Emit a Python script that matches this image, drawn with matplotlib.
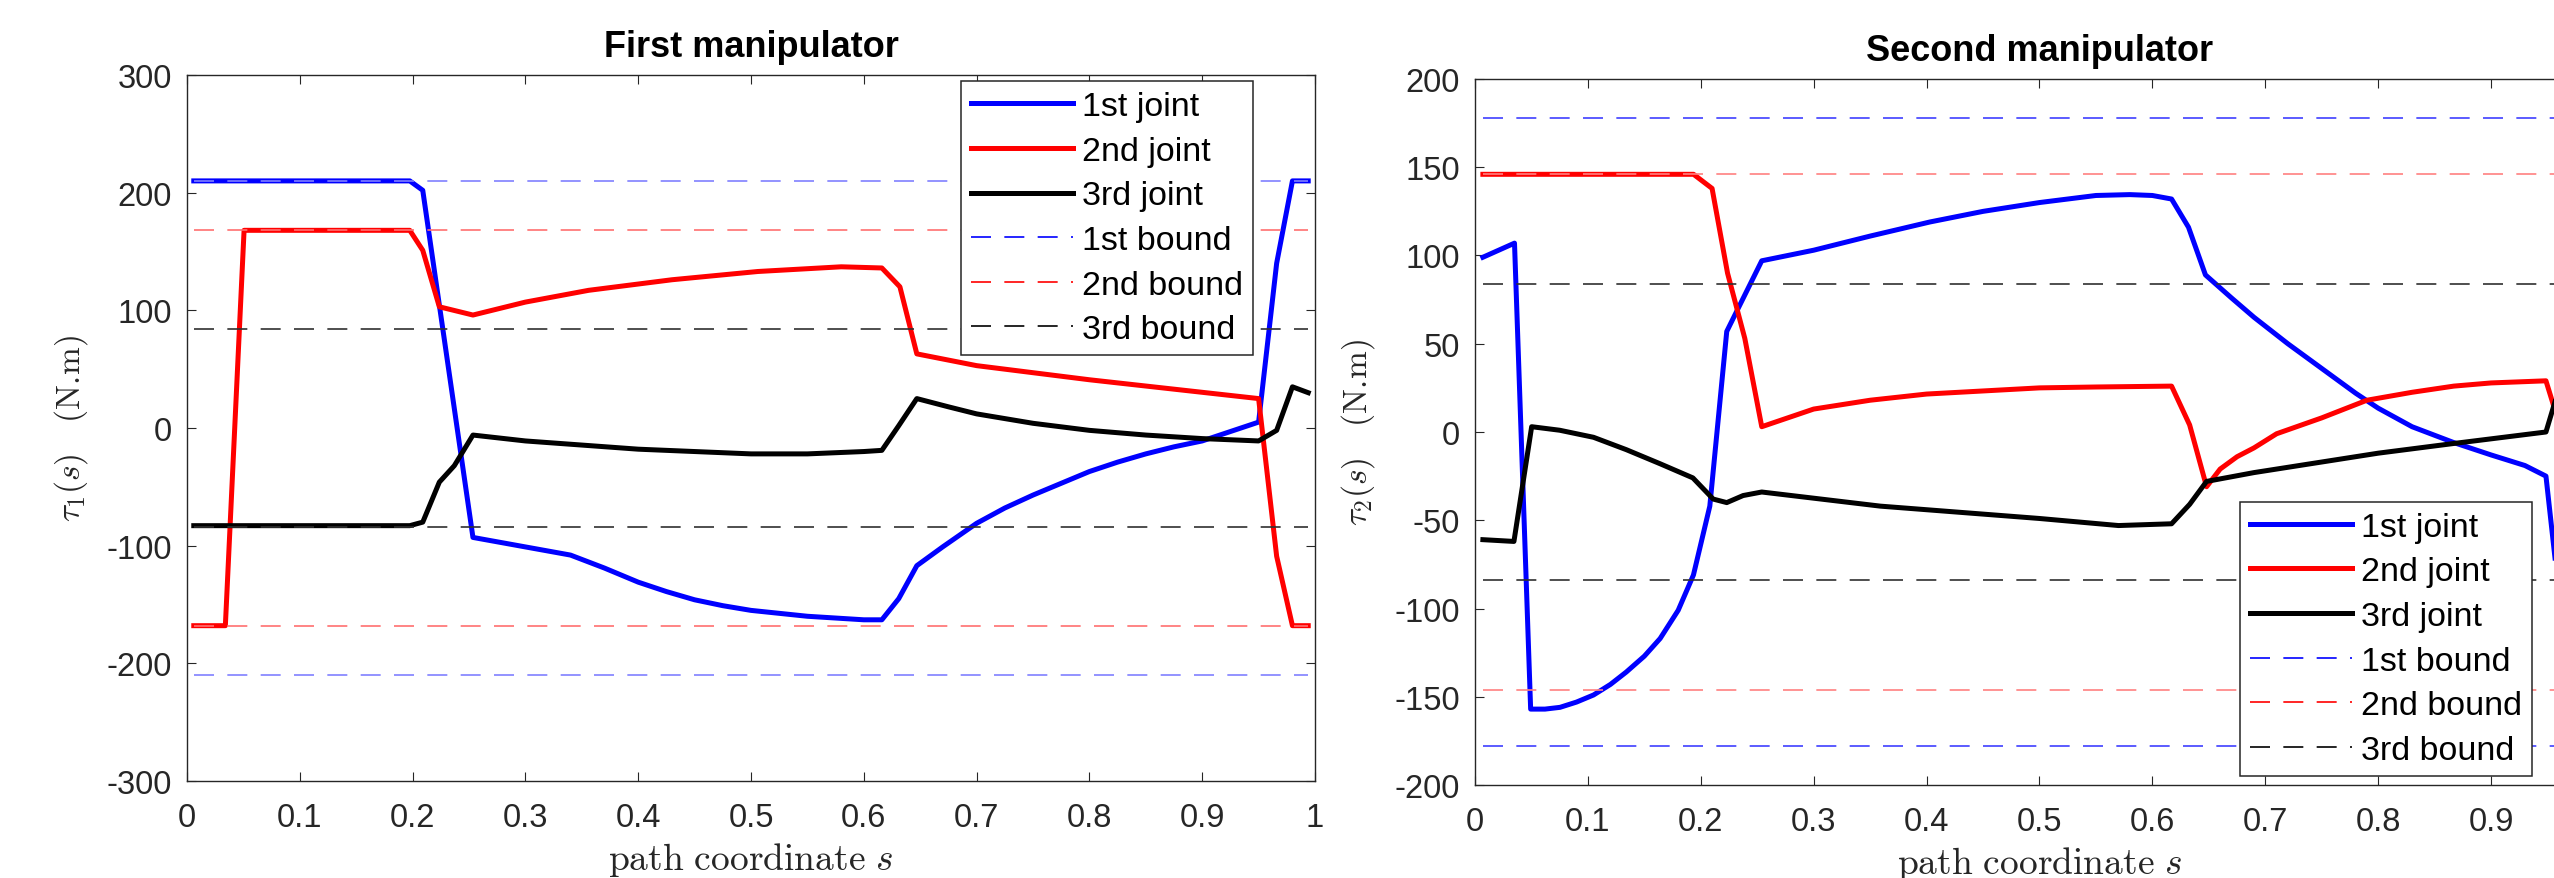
import matplotlib
matplotlib.use('Agg')
import matplotlib.pyplot as plt
from matplotlib.lines import Line2D

# ---- data ----
# first manipulator
s1_j1 = [0.006, 0.1975, 0.209, 0.2535, 0.34, 0.37, 0.40, 0.425, 0.45, 0.475, 0.50, 0.55, 0.60,
         0.616, 0.631, 0.647, 0.67, 0.70, 0.725, 0.75, 0.775, 0.80, 0.825, 0.85, 0.875, 0.90,
         0.925, 0.95, 0.966, 0.98, 0.994]
tau1_j1 = [210, 210, 202, -93, -108, -119, -131, -139, -146, -151, -155, -160, -163,
           -163, -145, -117, -101, -81, -68, -57, -47, -37, -29, -22, -16, -11,
           -3, 5, 140, 210, 210]
s1_j2 = [0.006, 0.034, 0.0506, 0.1975, 0.209, 0.2237, 0.2535, 0.30, 0.356, 0.43, 0.506, 0.58,
         0.616, 0.632, 0.647, 0.70, 0.80, 0.95, 0.966, 0.98, 0.994]
tau1_j2 = [-168, -168, 168, 168, 151, 103, 96, 107, 117, 126, 133, 137,
           136, 120, 63, 53, 41, 25, -109, -168, -168]
s1_j3 = [0.006, 0.1975, 0.209, 0.2237, 0.237, 0.2535, 0.30, 0.40, 0.50, 0.55, 0.60, 0.616,
         0.631, 0.647, 0.675, 0.70, 0.75, 0.80, 0.85, 0.90, 0.95, 0.966, 0.98, 0.994]
tau1_j3 = [-83, -83, -80, -46, -32, -6, -11, -18, -22, -22, -20, -19,
           2, 25, 18, 12, 4, -2, -6, -9, -11, -2, 35, 30]
bounds1 = [210, 168, 84]

# second manipulator
s2_j1 = [0.007, 0.035, 0.0493, 0.062, 0.0753, 0.09, 0.105, 0.12, 0.134, 0.15, 0.164, 0.18,
         0.1935, 0.208, 0.223, 0.254, 0.30, 0.35, 0.403, 0.45, 0.50, 0.55, 0.58, 0.60, 0.617,
         0.632, 0.647, 0.67, 0.69, 0.72, 0.75, 0.78, 0.80, 0.83, 0.867, 0.90, 0.93, 0.9486,
         0.965, 0.98, 0.994]
tau2_j1 = [99, 107, -157, -157, -156, -153, -149, -143, -136, -127, -117, -101,
           -81, -42, 57, 97, 103, 111, 119, 125, 130, 134, 134.5, 134, 132,
           116, 89, 76, 65, 50, 36, 22, 13.5, 3, -6, -13, -19, -25,
           -120, -157, -157]
s2_j2 = [0.007, 0.1936, 0.21, 0.2237, 0.239, 0.254, 0.30, 0.35, 0.40, 0.50, 0.55, 0.617,
         0.633, 0.648, 0.66, 0.675, 0.69, 0.71, 0.75, 0.79, 0.83, 0.867, 0.90, 0.9486,
         0.965, 0.98, 0.994]
tau2_j2 = [146, 146, 138, 90, 53, 3, 13, 18, 21.5, 25, 25.5, 26,
           4, -31, -21, -14, -9, -1, 8, 18, 22.5, 26, 27.8, 29,
           -5, -40, -40]
s2_j3 = [0.007, 0.0345, 0.0502, 0.075, 0.105, 0.134, 0.164, 0.193, 0.211, 0.223, 0.2375,
         0.254, 0.359, 0.50, 0.57, 0.617, 0.633, 0.648, 0.69, 0.80, 0.867, 0.9486, 0.965,
         0.98, 0.994]
tau2_j3 = [-61, -62, 3, 1, -3, -10, -18, -26, -38, -40, -36,
           -34, -42, -49, -53, -52, -41, -28, -23, -12, -6.5, 0, 35,
           50, 45]
bounds2 = [178, 146, 84]

xticks = [0, 0.1, 0.2, 0.3, 0.4, 0.5, 0.6, 0.7, 0.8, 0.9, 1]
xticklabels = ['0', '0.1', '0.2', '0.3', '0.4', '0.5', '0.6', '0.7', '0.8', '0.9', '1']
yticks1 = [-300, -200, -100, 0, 100, 200, 300]
yticks2 = [-200, -150, -100, -50, 0, 50, 100, 150, 200]
joint_names = ['1st joint', '2nd joint', '3rd joint']
bound_names = ['1st bound', '2nd bound', '3rd bound']

plt.rcParams['font.family'] = ['Liberation Sans', 'DejaVu Sans']
plt.rcParams['mathtext.fontset'] = 'cm'

dark = '#262626'
jcolors = ['#0000ff', '#ff0000', '#000000']
bcolors1 = ['#8080ff', '#ff7070', '#303030']
bcolors2 = ['#4040ff', '#ff8080', '#303030']

fig = plt.figure(figsize=(25.54, 8.79), dpi=100)
ax1 = fig.add_axes([0.07322, 0.11035, 0.44166, 0.80319])
ax2 = fig.add_axes([0.57752, 0.1058, 0.44205, 0.80319])


def draw(ax, joints, bounds, bcolors, yticks, ylab, title, xlabels, leg_loc, leg_anchor):
    for (s, v), c in zip(joints, jcolors):
        ax.plot(s, v, color=c, lw=3.6)
    s0, s1 = joints[0][0][0], joints[0][0][-1]
    for b, c in zip(bounds, bcolors):
        for sign in (1, -1):
            ax.plot([s0, s1], [sign * b, sign * b], color=c, lw=1.2, dashes=(12, 8))
    ax.set_xlim(0, 1)
    ax.set_ylim(yticks[0], yticks[-1])
    ax.set_xticks(xticks, xlabels)
    ax.set_yticks(yticks, [str(t) for t in yticks])
    ax.tick_params(direction='in', length=6.5, width=0.8, top=True, right=True,
                   labelsize=23.5, colors=dark, labelcolor=dark)
    ax.tick_params(axis='x', pad=15)
    ax.tick_params(axis='y', pad=11)
    for sp in ax.spines.values():
        sp.set_color(dark)
        sp.set_linewidth(1.0)
    ax.set_title(title, fontsize=26, fontweight='bold', pad=14)
    ax.set_xlabel(r'$\mathrm{path\ coordinate}\ s$', fontsize=27, color=dark, labelpad=5)
    ax.set_ylabel(ylab, fontsize=24, color=dark, labelpad=12)

    handles = [Line2D([], [], color=c, lw=3.6) for c in jcolors]
    handles += [Line2D([], [], color=c, lw=1.2, dashes=(12, 8)) for c in jcolors]
    leg = ax.legend(handles, joint_names + bound_names, loc=leg_loc,
                    bbox_to_anchor=leg_anchor, borderaxespad=0, fontsize=24.5,
                    handlelength=3.0, handletextpad=0.25, labelspacing=0.4,
                    borderpad=0.3, fancybox=False, framealpha=1)
    leg.get_frame().set_edgecolor(dark)
    leg.get_frame().set_linewidth(1.1)


ylab1 = r'$\tau_1(s)\quad\mathrm{(N.\!m)}$'
ylab2 = r'$\tau_2(s)\quad\mathrm{(N.\!m)}$'
# the right panel runs past the figure edge, so its last tick label is not visible
xlabels2 = xticklabels[:-1] + ['']

draw(ax1, [(s1_j1, tau1_j1), (s1_j2, tau1_j2), (s1_j3, tau1_j3)], bounds1, bcolors1,
     yticks1, ylab1, 'First manipulator', xticklabels, 'upper left', (0.686, 0.9915))
draw(ax2, [(s2_j1, tau2_j1), (s2_j2, tau2_j2), (s2_j3, tau2_j3)], bounds2, bcolors2,
     yticks2, ylab2, 'Second manipulator', xlabels2, 'lower left', (0.6776, 0.0127))

fig.savefig('out.png', dpi=100)
